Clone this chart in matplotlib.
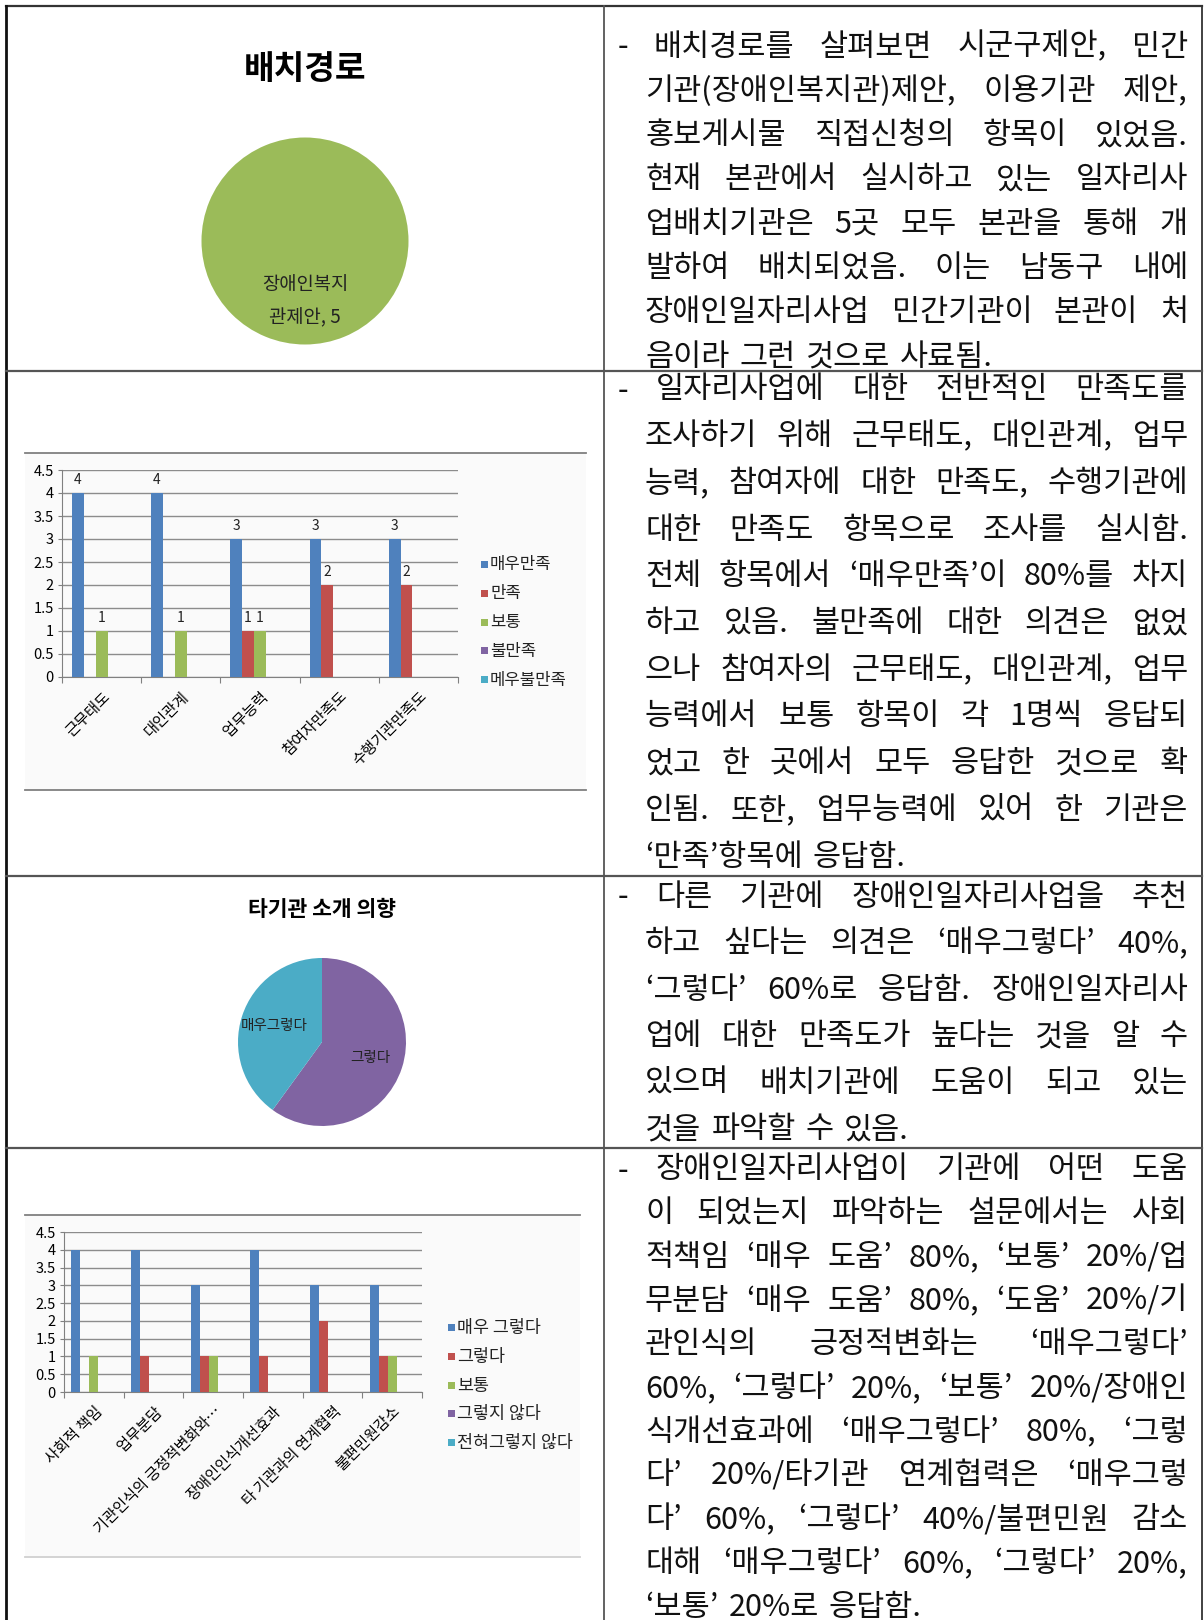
import matplotlib
matplotlib.use("Agg")
import matplotlib.pyplot as plt
import numpy as np
from matplotlib.patches import Rectangle

plt.rcParams['font.family'] = ['Noto Sans CJK KR', 'DejaVu Sans']

W, H = 1204, 1620

# ---- 데이터 ----
placement_labels = ['장애인복지관제안']
placement_values = [5]

sat_categories = ['근무태도', '대인관계', '업무능력', '참여자만족도', '수행기관만족도']
sat_series = ['매우만족', '만족', '보통', '불만족', '메우불만족']
sat_very = [4, 4, 3, 3, 3]
sat_good = [0, 0, 1, 2, 2]
sat_normal = [1, 1, 1, 0, 0]
sat_bad = [0, 0, 0, 0, 0]
sat_very_bad = [0, 0, 0, 0, 0]

recommend_labels = ['그렇다', '매우그렇다']
recommend_values = [60, 40]

help_categories = ['사회적 책임', '업무분담', '기관인식의 긍정적변화와…', '장애인인식개선효과',
                   '타 기관과의 연계협력', '불편민원감소']
help_series = ['매우 그렇다', '그렇다', '보통', '그렇지 않다', '전혀그렇지 않다']
help_very = [4, 4, 3, 4, 3, 3]
help_yes = [0, 1, 1, 1, 2, 1]
help_normal = [1, 0, 1, 0, 0, 1]
help_no = [0, 0, 0, 0, 0, 0]
help_never = [0, 0, 0, 0, 0, 0]

colors = ['#4F81BD', '#C0504D', '#9BBB59', '#8064A2', '#4BACC6']

# 오른쪽 칸 본문 (줄 단위)
row_texts = [
    ["- 배치경로를 살펴보면 시군구제안, 민간",
     "기관(장애인복지관)제안, 이용기관 제안,",
     "홍보게시물 직접신청의 항목이 있었음.",
     "현재 본관에서 실시하고 있는 일자리사",
     "업배치기관은 5곳 모두 본관을 통해 개",
     "발하여 배치되었음. 이는 남동구 내에",
     "장애인일자리사업 민간기관이 본관이 처",
     "음이라 그런 것으로 사료됨."],
    ["- 일자리사업에 대한 전반적인 만족도를",
     "조사하기 위해 근무태도, 대인관계, 업무",
     "능력, 참여자에 대한 만족도, 수행기관에",
     "대한 만족도 항목으로 조사를 실시함.",
     "전체 항목에서 ‘매우만족’이 80%를 차지",
     "하고 있음. 불만족에 대한 의견은 없었",
     "으나 참여자의 근무태도, 대인관계, 업무",
     "능력에서 보통 항목이 각 1명씩 응답되",
     "었고 한 곳에서 모두 응답한 것으로 확",
     "인됨. 또한, 업무능력에 있어 한 기관은",
     "‘만족’항목에 응답함."],
    ["- 다른 기관에 장애인일자리사업을 추천",
     "하고 싶다는 의견은 ‘매우그렇다’ 40%,",
     "‘그렇다’ 60%로 응답함. 장애인일자리사",
     "업에 대한 만족도가 높다는 것을 알 수",
     "있으며 배치기관에 도움이 되고 있는",
     "것을 파악할 수 있음."],
    ["- 장애인일자리사업이 기관에 어떤 도움",
     "이 되었는지 파악하는 설문에서는 사회",
     "적책임 ‘매우 도움’ 80%, ‘보통’ 20%/업",
     "무분담 ‘매우 도움’ 80%, ‘도움’ 20%/기",
     "관인식의 긍정적변화는 ‘매우그렇다’",
     "60%, ‘그렇다’ 20%, ‘보통’ 20%/장애인",
     "식개선효과에 ‘매우그렇다’ 80%, ‘그렇",
     "다’ 20%/타기관 연계협력은 ‘매우그렇",
     "다’ 60%, ‘그렇다’ 40%/불편민원 감소",
     "대해 ‘매우그렇다’ 60%, ‘그렇다’ 20%,",
     "‘보통’ 20%로 응답함."],
]
row_first_y = [47, 390, 897, 1170]
row_pitch = [44.3, 46.7, 46.6, 43.7]

fig = plt.figure(figsize=(W / 100, H / 100), dpi=100)
bg = fig.add_axes([0, 0, 1, 1])
bg.set_xlim(0, W)
bg.set_ylim(H, 0)
bg.axis('off')


def px_axes(x0, y0, x1, y1):
    return fig.add_axes([x0 / W, 1 - y1 / H, (x1 - x0) / W, (y1 - y0) / H])


# 표 테두리
bg.plot([6, 1202], [6, 6], color='#333333', lw=1.6)
bg.plot([6, 6], [6, H], color='#111111', lw=2.0)
bg.plot([1202, 1202], [6, H], color='#333333', lw=1.3)
bg.plot([604, 604], [6, H], color='#555555', lw=1.3)
for y in [371, 876, 1148]:
    bg.plot([6, 1202], [y, y], color='#555555', lw=1.6)

# 본문 양쪽 정렬
renderer = fig.canvas.get_renderer()
fs = 22
x_dash, x_left, x_right = 618, 645, 1188
for lines, y0, pitch in zip(row_texts, row_first_y, row_pitch):
    for i, line in enumerate(lines):
        y = y0 + i * pitch
        words = line.split(' ')
        x_start = x_dash if i == 0 else x_left
        texts = [bg.text(0, y, w_, fontsize=fs, va='center', ha='left', color='#111111')
                 for w_ in words]
        widths = [t.get_window_extent(renderer).width for t in texts]
        last = (i == len(lines) - 1)
        if last or len(words) == 1:
            gap = fs * 100 / 72 * 0.33
        else:
            gap = (x_right - x_start - sum(widths)) / (len(words) - 1)
        x = x_start
        for t, wd in zip(texts, widths):
            t.set_x(x)
            x += wd + gap


# ---- 배치경로 파이 ----
bg.text(305, 70, '배치경로', fontsize=24, fontweight='bold', ha='center', va='center')
ax1 = px_axes(201.5, 137.5, 408.5, 344.5)
name = placement_labels[0]
lab = f"{name[:5]}\n{name[5:]}, {placement_values[0]}"
_, t1 = ax1.pie(placement_values, colors=[colors[2]], startangle=90, counterclock=False,
                labels=[lab], labeldistance=0.58, wedgeprops=dict(linewidth=0))
for t in t1:
    t.set_ha('center')
    t.set_va('center')
    t.set_fontsize(13.5)
    t.set_linespacing(1.75)
    t.set_color('#222222')
ax1.set_xlim(-1, 1)
ax1.set_ylim(-1, 1)


# ---- 막대 그래프 ----
def bar_chart(frame, box, cats, names, series, leg_x, leg_y0, show_vals, bottom_col,
              cat_fs, leg_fs):
    fx0, fy0, fx1, fy1 = frame
    bg.add_patch(Rectangle((fx0, fy0), fx1 - fx0, fy1 - fy0, facecolor='#fafafa',
                           edgecolor='none', zorder=1))
    bg.plot([fx0, fx1], [fy0, fy0], color='#808080', lw=1.3, zorder=2)
    bg.plot([fx0, fx1], [fy1, fy1], color=bottom_col, lw=1.3, zorder=2)
    ax = px_axes(*box)
    ax.set_facecolor('none')
    n = len(series)
    bw = 0.15
    idx = np.arange(len(cats))
    for k, vals in enumerate(series):
        xs = idx + (k - (n - 1) / 2) * bw
        ax.bar(xs, vals, bw, color=colors[k], linewidth=0, zorder=3)
        if show_vals:
            for xv, v in zip(xs, vals):
                if v:
                    ax.annotate(str(v), (xv, v), xytext=(0, 4), textcoords='offset points',
                                ha='center', va='bottom', fontsize=10, color='#222222')
    ax.set_xlim(-0.5, len(cats) - 0.5)
    ax.set_ylim(0, 4.5)
    ax.set_yticks(np.arange(0, 4.51, 0.5))
    ax.set_yticklabels([f'{v:g}' for v in np.arange(0, 4.51, 0.5)], fontsize=10.5)
    ax.yaxis.grid(True, color='#8c8c8c', lw=1.0)
    ax.set_axisbelow(True)
    ax.set_xticks(np.arange(-0.5, len(cats), 1.0))
    ax.set_xticklabels([''] * (len(cats) + 1))
    ax.set_xticks(idx, minor=True)
    ax.set_xticklabels(cats, minor=True, rotation=45, ha='right', rotation_mode='anchor',
                       fontsize=cat_fs)
    ax.tick_params(axis='x', which='major', length=4, color='#808080')
    ax.tick_params(axis='x', which='minor', length=0, pad=8)
    ax.tick_params(axis='y', length=3, color='#808080', pad=3)
    for s in ['top', 'right']:
        ax.spines[s].set_visible(False)
    for s in ['left', 'bottom']:
        ax.spines[s].set_color('#808080')
    for k, nm in enumerate(names):
        y = leg_y0 + k * 28.75
        bg.add_patch(Rectangle((leg_x, y - 4), 7, 7, facecolor=colors[k], edgecolor='none', zorder=3))
        bg.text(leg_x + 9, y, nm, fontsize=leg_fs, va='center', ha='left', color='#222222', zorder=3)
    return ax


bar_chart((25, 453, 586, 790), (62, 470, 458, 677), sat_categories, sat_series,
          [sat_very, sat_good, sat_normal, sat_bad, sat_very_bad], 481, 565, True, '#808080',
          11, 12)

bar_chart((25, 1215, 580, 1557), (64, 1232, 422, 1392), help_categories, help_series,
          [help_very, help_yes, help_normal, help_no, help_never], 448, 1328, False, '#d0d0d0',
          11, 12.5)

# ---- 타기관 소개 의향 파이 ----
bg.text(322, 910, '타기관 소개 의향', fontsize=15.5, fontweight='bold', ha='center', va='center')
ax3 = px_axes(238, 958, 406, 1126)
_, t3 = ax3.pie(recommend_values, colors=[colors[3], colors[4]], startangle=90,
                counterclock=False, labels=recommend_labels, labeldistance=0.6,
                wedgeprops=dict(linewidth=0))
for t in t3:
    t.set_ha('center')
    t.set_va('center')
    t.set_fontsize(10.5)
    t.set_color('#222222')
ax3.set_xlim(-1, 1)
ax3.set_ylim(-1, 1)

fig.savefig('out.png', dpi=100)
